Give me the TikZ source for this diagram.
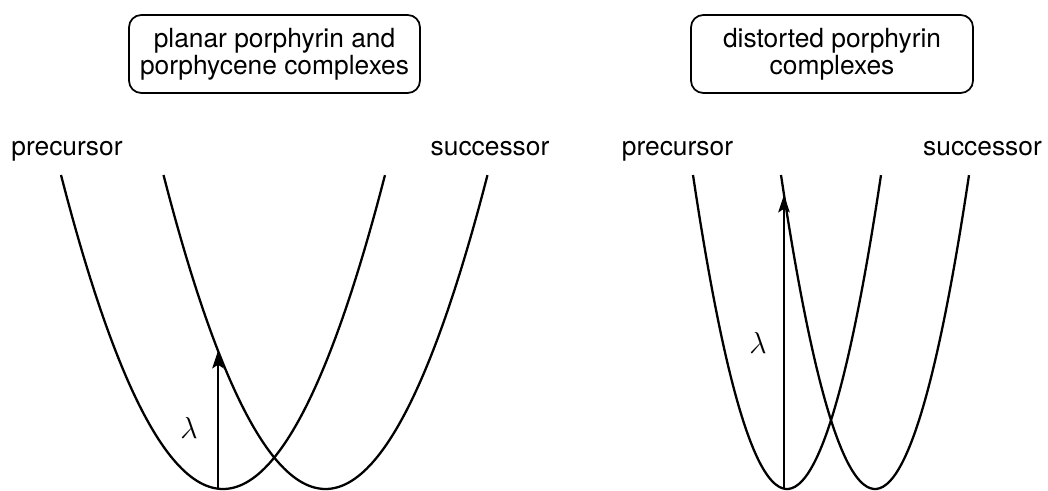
\documentclass[tikz,border=0pt]{standalone}
\usepackage{fontspec}
\setmainfont{TeX Gyre Heros}
\usetikzlibrary{arrows.meta}

\begin{document}
\begin{tikzpicture}[
    curva/.style={line width=1.3pt, variable=\t, samples=60, smooth},
    etiq/.style={anchor=base, font=\fontsize{15}{18}\selectfont},
    caja/.style={draw, line width=1pt, rounded corners=7pt, align=center,
                 minimum height=1.56cm, inner sep=2pt,
                 font=\fontsize{15}{15.5}\selectfont},
    flecha/.style={line width=1.1pt, -{Stealth[length=10pt, width=6.5pt, inset=2pt]}},
    lam/.style={font=\fontsize{16}{16}\selectfont}
]
    \useasboundingbox (0,0) rectangle (20.96,9.82);

    % Cajas de título
    \node[caja, minimum width=5.82cm] (cajaplanar) at (5.49,8.74)
        {planar porphyrin and\\porphycene complexes};
    \node[caja, minimum width=5.64cm] (cajadist) at (16.64,8.74)
        {distorted porphyrin\\complexes};

    % Panel izquierdo: parábolas anchas
    \draw[curva, domain=1.22:7.70] plot ({\t},{0.04+0.5982*(\t-4.46)^2});
    \draw[curva, domain=3.27:9.75] plot ({\t},{0.04+0.5982*(\t-6.51)^2});
    \node[etiq] (precizq) at (1.34,6.70) {precursor};
    \node[etiq] (sucizq) at (9.80,6.70) {successor};

    % Energía de reorganización (izquierda)
    \coordinate (baseizq) at (4.36,0.04);
    \coordinate (puntaizq) at (4.36,2.805);
    \draw[flecha] (baseizq) -- (puntaizq);
    \node[lam] (lamizq) at (3.78,1.26) {$\lambda$};

    % Panel derecho: parábolas estrechas
    \draw[curva, domain=13.86:17.62] plot ({\t},{0.04+1.7768*(\t-15.74)^2});
    \draw[curva, domain=15.62:19.38] plot ({\t},{0.04+1.7768*(\t-17.50)^2});
    \node[etiq] (precder) at (13.55,6.70) {precursor};
    \node[etiq] (sucder) at (19.65,6.70) {successor};

    % Energía de reorganización (derecha)
    \coordinate (baseder) at (15.68,0.04);
    \coordinate (puntader) at (15.68,5.925);
    \draw[flecha] (baseder) -- (puntader);
    \node[lam] (lamder) at (15.16,2.96) {$\lambda$};
\end{tikzpicture}
\end{document}
